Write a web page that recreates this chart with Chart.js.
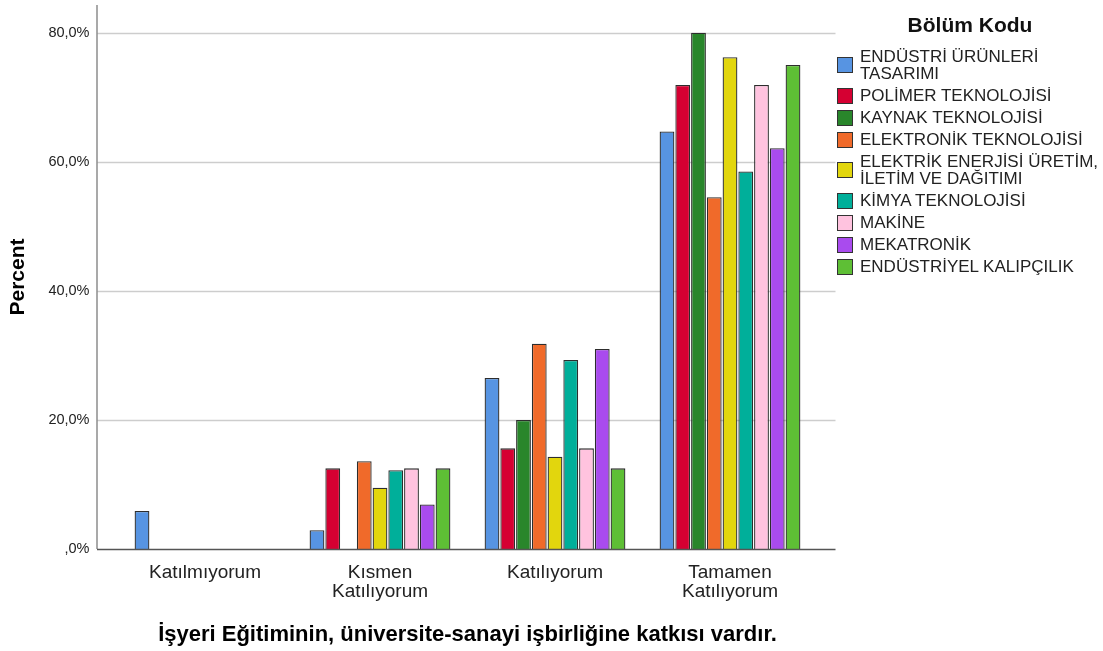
<!DOCTYPE html>
<html>
<head>
<meta charset="utf-8">
<script src="https://cdn.jsdelivr.net/npm/chart.js@4/dist/chart.umd.min.js"></script>
<style>
  html, body { margin: 0; padding: 0; background: #fff; }
  #wrap { position: relative; width: 1103px; height: 651px; font-family: "Liberation Sans", Arial, sans-serif; }
  #c { position: absolute; left: 0; top: 0; }
  #legend { position: absolute; left: 837px; top: 12px; width: 266px; color: #222; }
  #legend .title { position: absolute; left: 0; top: 0; width: 266px; text-align: center; font-weight: bold; font-size: 21px; color: #111; line-height: 26px; }
  #legend .items { position: absolute; left: 0; top: 36px; }
  #legend .item { display: flex; align-items: center; margin-bottom: 5px; }
  #legend .box { width: 14px; height: 14px; border: 1px solid #333; flex: none; margin-right: 7px; }
  #legend .txt { font-size: 17px; line-height: 17px; white-space: nowrap; }
</style>
</head>
<body>
<div id="wrap">
  <canvas id="c" width="1103" height="651"></canvas>
  <div id="legend"><div class="title">Bölüm Kodu</div><div class="items" id="items"></div></div>
</div>
<script>
// Categories (x axis)
const categories = [
  ["Katılmıyorum"],
  ["Kısmen", "Katılıyorum"],
  ["Katılıyorum"],
  ["Tamamen", "Katılıyorum"]
];
// Series names (Bölüm Kodu)
const seriesNames = [
  ["ENDÜSTRİ ÜRÜNLERİ", "TASARIMI"],
  ["POLİMER TEKNOLOJİSİ"],
  ["KAYNAK TEKNOLOJİSİ"],
  ["ELEKTRONİK TEKNOLOJİSİ"],
  ["ELEKTRİK ENERJİSİ ÜRETİM,", "İLETİM VE DAĞITIMI"],
  ["KİMYA TEKNOLOJİSİ"],
  ["MAKİNE"],
  ["MEKATRONİK"],
  ["ENDÜSTRİYEL KALIPÇILIK"]
];
const seriesColors = ["#5794E2", "#D50032", "#29862B", "#F06A2A", "#E2D60D", "#00AF9A", "#FFC3DF", "#A94BEE", "#5EBF35"];
// Percent values per series, in category order
const endustriUrunleri = [5.9, 2.9, 26.5, 64.7];
const polimer          = [0, 12.5, 15.6, 71.9];
const kaynak           = [0, 0, 20.0, 80.0];
const elektronik       = [0, 13.6, 31.8, 54.5];
const elektrik         = [0, 9.5, 14.3, 76.2];
const kimya            = [0, 12.2, 29.3, 58.5];
const makine           = [0, 12.5, 15.6, 71.9];
const mekatronik       = [0, 6.9, 31.0, 62.1];
const kalipcilik       = [0, 12.5, 12.5, 75.0];
const seriesValues = [endustriUrunleri, polimer, kaynak, elektronik, elektrik, kimya, makine, mekatronik, kalipcilik];
// Y ticks
const yTickValues = [0, 20, 40, 60, 80];
const yMax = 84.3;

const FONT = "'Liberation Sans', Arial, sans-serif";

const extendedGrid = {
  id: 'extendedGrid',
  beforeDatasetsDraw(chart) {
    const { ctx, chartArea, scales } = chart;
    const y = scales.y;
    const x0 = chartArea.left - 20.5, x1 = chartArea.right + 18;
    ctx.save();
    ctx.lineWidth = 1.5;
    ctx.strokeStyle = '#cdcdcd';
    yTickValues.forEach(v => {
      if (v === 0) return;
      const py = Math.round(y.getPixelForValue(v)) + 0.5;
      ctx.beginPath(); ctx.moveTo(x0, py); ctx.lineTo(x1, py); ctx.stroke();
    });
    ctx.strokeStyle = '#8c8c8c';
    ctx.beginPath(); ctx.moveTo(x0, chartArea.top); ctx.lineTo(x0, y.getPixelForValue(0)); ctx.stroke();
    ctx.restore();
  },
  afterDatasetsDraw(chart) {
    const { ctx, chartArea, scales } = chart;
    const y = scales.y;
    const x0 = chartArea.left - 20.5, x1 = chartArea.right + 18;
    const py = Math.round(y.getPixelForValue(0)) + 0.5;
    ctx.save();
    ctx.lineWidth = 1.5;
    ctx.strokeStyle = '#555';
    ctx.beginPath(); ctx.moveTo(x0, py); ctx.lineTo(x1, py); ctx.stroke();
    ctx.restore();
  }
};

const datasets = seriesNames.map((n, i) => ({
  label: n.join(' '),
  data: seriesValues[i],
  backgroundColor: seriesColors[i],
  borderColor: '#2d2d2d',
  borderWidth: 1.3,
  borderSkipped: 'bottom',
  categoryPercentage: 0.81,
  barPercentage: 0.94
}));

new Chart(document.getElementById('c'), {
  type: 'bar',
  data: { labels: categories, datasets },
  plugins: [extendedGrid],
  options: {
    responsive: false,
    animation: false,
    devicePixelRatio: 1,
    layout: { padding: { left: 0, right: 285.5, top: 5, bottom: 0 } },
    plugins: { legend: { display: false }, tooltip: { enabled: false } },
    scales: {
      x: {
        grid: { display: false, drawTicks: false },
        border: { display: false },
        ticks: { color: '#222', font: { family: FONT, size: 19, lineHeight: '19px' }, padding: 14.5, maxRotation: 0, autoSkip: false },
        title: { display: true, text: 'İşyeri Eğitiminin, üniversite-sanayi işbirliğine katkısı vardır.', color: '#000',
                 font: { family: FONT, size: 22, weight: 'bold' }, padding: { top: 0, bottom: 3 } },
        afterFit(s) { s.height = 102; s.paddingLeft = 0; s.paddingRight = 0; }
      },
      y: {
        min: 0, max: yMax,
        grid: { display: false, drawTicks: false },
        border: { display: false },
        afterBuildTicks(s) { s.ticks = yTickValues.map(v => ({ value: v })); },
        ticks: { color: '#222', font: { family: FONT, size: 14.5 }, padding: 28,
                 callback: v => v === 0 ? ',0%' : v.toFixed(1).replace('.', ',') + '%' },
        title: { display: true, text: 'Percent', color: '#000',
                 font: { family: FONT, size: 21, weight: 'bold' }, padding: { top: 6, bottom: 0 } },
        afterFit(s) { s.width = 117.5; s.paddingTop = 0; s.paddingBottom = 0; }
      }
    }
  }
});

// HTML legend built from the same arrays
const itemsEl = document.getElementById('items');
seriesNames.forEach((n, i) => {
  const it = document.createElement('div'); it.className = 'item';
  const b = document.createElement('div'); b.className = 'box'; b.style.background = seriesColors[i];
  const t = document.createElement('div'); t.className = 'txt'; t.innerHTML = n.join('<br>');
  it.appendChild(b); it.appendChild(t); itemsEl.appendChild(it);
});
</script>
</body>
</html>
